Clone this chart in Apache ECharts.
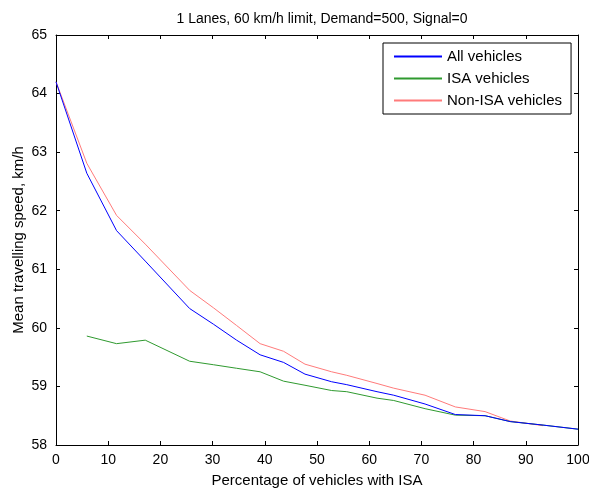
<!DOCTYPE html>
<html>
<head>
<meta charset="utf-8">
<script src="https://cdn.jsdelivr.net/npm/echarts@6/dist/echarts.min.js"></script>
<style>html,body{margin:0;padding:0;background:#fff;}#c{width:589px;height:488px;}</style>
</head>
<body>
<div id="c"></div>
<script>
var titleText = '1 Lanes, 60 km/h limit, Demand=500, Signal=0';
var xName = 'Percentage of vehicles with ISA';
var yName = 'Mean travelling speed, km/h';
var seriesNames = ['All vehicles', 'ISA vehicles', 'Non-ISA vehicles'];
var pct = [0, 5.9, 11.6, 17.1, 25.6, 30.2, 34.6, 39.1, 43.6, 47.7, 52.8, 55.7, 61.5, 64.7, 70.7, 76.5, 82.2, 87.0, 93.3, 100];
var allVeh = [64.2, 62.64, 61.66, 61.14, 60.33, 60.06, 59.79, 59.54, 59.41, 59.21, 59.08, 59.03, 58.91, 58.85, 58.70, 58.52, 58.50, 58.40, 58.34, 58.27];
var isaVeh = [null, 59.86, 59.73, 59.79, 59.43, 59.37, 59.31, 59.25, 59.09, 59.02, 58.93, 58.91, 58.80, 58.76, 58.62, 58.51, 58.50, 58.40, 58.34, 58.27];
var nonIsaVeh = [64.2, 62.81, 61.92, 61.43, 60.64, 60.34, 60.04, 59.73, 59.60, 59.38, 59.25, 59.19, 59.05, 58.97, 58.85, 58.65, 58.57, 58.41, 58.33, null];

function pairs(xs, ys) {
  var out = [];
  for (var i = 0; i < xs.length; i++) { if (ys[i] !== null) out.push([xs[i], ys[i]]); }
  return out;
}
var FONT = 'Liberation Sans, Arial, sans-serif';
var chart = echarts.init(document.getElementById('c'), null, {renderer: 'canvas'});
var axisCommon = {
  axisLine: {show: true, onZero: false, lineStyle: {color: '#000', width: 1}},
  axisTick: {show: true, inside: true, length: 4, lineStyle: {color: '#000'}},
  splitLine: {show: false}
};
chart.setOption({
  animation: false,
  backgroundColor: '#fff',
  title: {
    text: titleText, left: 317, top: 7, textAlign: 'center',
    textStyle: {fontFamily: FONT, fontSize: 14, fontWeight: 'normal', color: '#000'}
  },
  grid: {left: 56, right: 11, top: 35, bottom: 43, containLabel: false, outerBoundsMode: 'none'},
  legend: {
    orient: 'vertical', left: 383, top: 43,
    padding: [6, 9, 6, 10], itemGap: 7, itemWidth: 48, itemHeight: 14,
    backgroundColor: '#fff', borderColor: '#000', borderWidth: 1,
    itemStyle: {opacity: 0},
    textStyle: {fontFamily: FONT, fontSize: 15, color: '#000'},
    data: seriesNames
  },
  xAxis: [
    Object.assign({
      type: 'value', min: 0, max: 100, interval: 10, position: 'bottom',
      name: xName, nameLocation: 'middle', nameGap: 28,
      nameTextStyle: {fontFamily: FONT, fontSize: 15, color: '#000'},
      axisLabel: {fontFamily: FONT, fontSize: 14, color: '#000', margin: 8}
    }, axisCommon),
    Object.assign({
      type: 'value', min: 0, max: 100, interval: 10, position: 'top',
      axisLabel: {show: false}
    }, axisCommon)
  ],
  yAxis: [
    Object.assign({
      type: 'value', min: 58, max: 65, interval: 1, position: 'left',
      name: yName, nameLocation: 'middle', nameGap: 30, nameMoveOverlap: false,
      nameTextStyle: {fontFamily: FONT, fontSize: 15, color: '#000'},
      axisLabel: {fontFamily: FONT, fontSize: 14, color: '#000', margin: 9}
    }, axisCommon),
    Object.assign({
      type: 'value', min: 58, max: 65, interval: 1, position: 'right',
      axisLabel: {show: false}
    }, axisCommon)
  ],
  series: [
    {name: seriesNames[0], type: 'line', data: pairs(pct, allVeh), symbol: 'none', showSymbol: false,
     lineStyle: {color: '#0000ff', width: 1}, itemStyle: {color: '#0000ff'}, z: 3},
    {name: seriesNames[1], type: 'line', data: pairs(pct, isaVeh), symbol: 'none', showSymbol: false,
     lineStyle: {color: '#2f9a2f', width: 1}, itemStyle: {color: '#2f9a2f'}, z: 2},
    {name: seriesNames[2], type: 'line', data: pairs(pct, nonIsaVeh), symbol: 'none', showSymbol: false,
     lineStyle: {color: '#ff7b7b', width: 1}, itemStyle: {color: '#ff7b7b'}, z: 1}
  ]
});
</script>
</body>
</html>
